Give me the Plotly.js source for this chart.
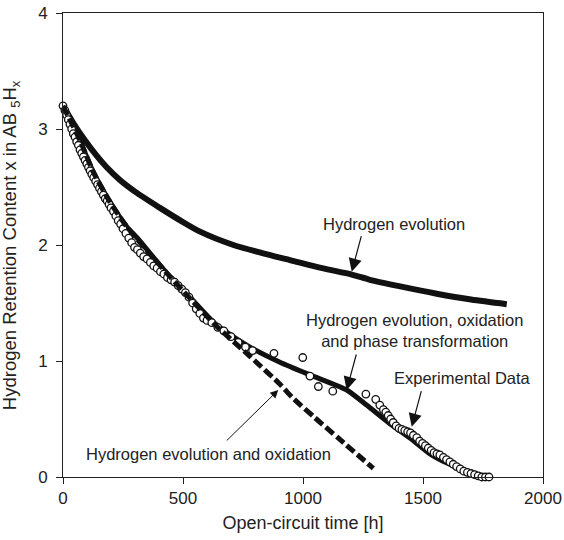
<!DOCTYPE html>
<html>
<head>
<meta charset="utf-8">
<script src="https://cdn.plot.ly/plotly-3.0.1.min.js"></script>
<style>html,body{margin:0;padding:0;background:#fff;}#chart{width:564px;height:540px;}</style>
</head>
<body>
<div id="chart"></div>
<script>
// Hydrogen evolution model curve
const hevoX = [0, 40, 92, 140, 182, 237, 300, 404, 490, 571, 710, 830, 946, 1080, 1203, 1279, 1400, 1557, 1700, 1849];
const hevoY = [3.20, 3.06, 2.90, 2.77, 2.67, 2.56, 2.46, 2.32, 2.21, 2.115, 2.00, 1.93, 1.87, 1.80, 1.745, 1.70, 1.645, 1.58, 1.53, 1.49];

// Hydrogen evolution, oxidation and phase transformation model curve
const hopX = [0, 43, 71, 126, 196, 265, 314, 362, 440, 529, 640, 779, 904, 1029, 1182, 1265, 1362, 1450, 1529, 1600, 1680, 1750];
const hopY = [3.20, 3.05, 2.90, 2.63, 2.37, 2.16, 2.05, 1.93, 1.74, 1.55, 1.31, 1.12, 0.99, 0.88, 0.75, 0.62, 0.46, 0.33, 0.20, 0.12, 0.05, 0.01];

// Hydrogen evolution and oxidation model curve (dashed)
const hoX = [0, 71, 126, 196, 265, 330, 440, 529, 640, 779, 904, 958, 1050, 1150, 1293];
const hoY = [3.20, 2.90, 2.63, 2.37, 2.16, 2.00, 1.74, 1.54, 1.30, 1.04, 0.80, 0.68, 0.51, 0.33, 0.075];

// Experimental data
const expX = [0, 8, 15, 22, 29, 36, 43, 50, 57, 64, 71, 78, 85, 92, 99, 106, 113, 120, 128, 136, 144, 152, 160, 168, 176, 184, 192, 200, 210, 220, 230, 240, 250, 262, 274, 286, 298, 310, 322, 336, 350, 364, 378, 392, 406, 420, 435, 450, 465, 480, 495, 510, 525, 540, 555, 570, 585, 600, 620, 645, 670, 700, 730, 760, 790, 879, 999, 1029, 1064, 1124, 1262, 1303, 1320, 1335, 1345, 1355, 1365, 1376, 1388, 1400, 1412, 1424, 1436, 1448, 1460, 1474, 1486, 1498, 1510, 1522, 1534, 1546, 1558, 1570, 1585, 1598, 1612, 1626, 1640, 1655, 1670, 1685, 1700, 1715, 1730, 1745, 1760, 1775];
const expY = [3.20, 3.16, 3.12, 3.08, 3.04, 3.00, 2.96, 2.93, 2.89, 2.86, 2.82, 2.79, 2.76, 2.73, 2.70, 2.67, 2.64, 2.61, 2.58, 2.55, 2.52, 2.49, 2.46, 2.43, 2.40, 2.38, 2.35, 2.32, 2.29, 2.25, 2.21, 2.18, 2.14, 2.10, 2.06, 2.02, 1.98, 1.96, 1.93, 1.90, 1.88, 1.85, 1.82, 1.80, 1.77, 1.75, 1.72, 1.70, 1.68, 1.65, 1.62, 1.59, 1.55, 1.50, 1.45, 1.41, 1.37, 1.35, 1.33, 1.29, 1.26, 1.21, 1.16, 1.12, 1.09, 1.066, 1.03, 0.87, 0.78, 0.74, 0.715, 0.67, 0.62, 0.58, 0.56, 0.53, 0.50, 0.47, 0.44, 0.42, 0.41, 0.40, 0.39, 0.38, 0.36, 0.34, 0.31, 0.29, 0.27, 0.25, 0.23, 0.21, 0.20, 0.19, 0.17, 0.15, 0.13, 0.11, 0.09, 0.07, 0.05, 0.04, 0.03, 0.02, 0.01, 0.00, 0.00, 0.00];

const xTicks = [0, 500, 1000, 1500, 2000];
const yTicks = [0, 1, 2, 3, 4];

const FONT = 'Liberation Sans, Arial, Helvetica, sans-serif';

const traces = [
  {x: hevoX, y: hevoY, mode: 'lines', line: {color: '#111', width: 6, shape: 'spline', smoothing: 0.8}, hoverinfo: 'skip', cliponaxis: false},
  {x: hopX, y: hopY, mode: 'lines', line: {color: '#111', width: 5, shape: 'spline', smoothing: 0.6}, hoverinfo: 'skip', cliponaxis: false},
  {x: expX, y: expY, mode: 'markers', marker: {symbol: 'circle', size: 7.5, color: '#fff', line: {color: '#111', width: 1.3}}, hoverinfo: 'skip', cliponaxis: false},
  {x: hoX, y: hoY, mode: 'lines', line: {color: '#111', width: 5, dash: '10px,4px', shape: 'spline', smoothing: 0.6}, hoverinfo: 'skip', cliponaxis: false}
];

const annFont = {family: FONT, size: 16.5, color: '#222'};
const layout = {
  width: 564, height: 540,
  margin: {l: 63, r: 21, t: 13, b: 63},
  paper_bgcolor: '#fff', plot_bgcolor: '#fff',
  showlegend: false,
  font: {family: FONT, color: '#222'},
  xaxis: {
    range: [0, 2000], tickvals: xTicks, ticktext: xTicks.map(String),
    ticks: 'outside', ticklen: 6, tickcolor: '#222', tickwidth: 1,
    showline: true, linecolor: '#222', linewidth: 1, mirror: true,
    showgrid: false, zeroline: false,
    tickfont: {family: FONT, size: 17, color: '#222'},
    title: {text: 'Open-circuit time [h]', font: {family: FONT, size: 18, color: '#222'}, standoff: 8}
  },
  yaxis: {
    range: [0, 4], tickvals: yTicks, ticktext: yTicks.map(String),
    ticks: 'outside', ticklen: 6, tickcolor: '#222', tickwidth: 1,
    ticklabelstandoff: 5,
    showline: true, linecolor: '#222', linewidth: 1, mirror: true,
    showgrid: false, zeroline: false,
    tickfont: {family: FONT, size: 17, color: '#222'}
  },
  annotations: [
    {xref: 'paper', yref: 'paper', x: -0.108, y: 0.5, textangle: -90, text: 'Hydrogen Retention Content x in AB <sub>5</sub>H<sub>x</sub>', showarrow: false, font: {family: FONT, size: 18.5, color: '#222'}, xanchor: 'center', yanchor: 'middle'},
    {x: 1203, y: 1.77, ax: 10, ay: -37, text: '', showarrow: true, arrowhead: 2, arrowsize: 2.2, arrowwidth: 1.2, arrowcolor: '#111'},
    {x: 1380, y: 2.18, text: 'Hydrogen evolution', showarrow: false, font: annFont, xanchor: 'center', yanchor: 'middle'},
    {x: 1182, y: 0.75, ax: 10, ay: -37, text: '', showarrow: true, arrowhead: 2, arrowsize: 2.2, arrowwidth: 1.2, arrowcolor: '#111'},
    {x: 1463, y: 1.26, text: 'Hydrogen evolution, oxidation<br>and phase transformation', showarrow: false, font: annFont, xanchor: 'center', yanchor: 'middle', align: 'center'},
    {x: 1453, y: 0.434, ax: 10, ay: -37, text: '', showarrow: true, arrowhead: 2, arrowsize: 2.2, arrowwidth: 1.2, arrowcolor: '#111'},
    {x: 1665, y: 0.85, text: 'Experimental Data', showarrow: false, font: annFont, xanchor: 'center', yanchor: 'middle'},
    {x: 897, y: 0.75, ax: -53, ay: 52, text: '', showarrow: true, arrowhead: 2, arrowsize: 1.6, arrowwidth: 1, arrowcolor: '#111'},
    {x: 605, y: 0.20, text: 'Hydrogen evolution and oxidation', showarrow: false, font: annFont, xanchor: 'center', yanchor: 'middle'}
  ]
};

Plotly.newPlot('chart', traces, layout, {staticPlot: true, displayModeBar: false});
</script>
</body>
</html>
